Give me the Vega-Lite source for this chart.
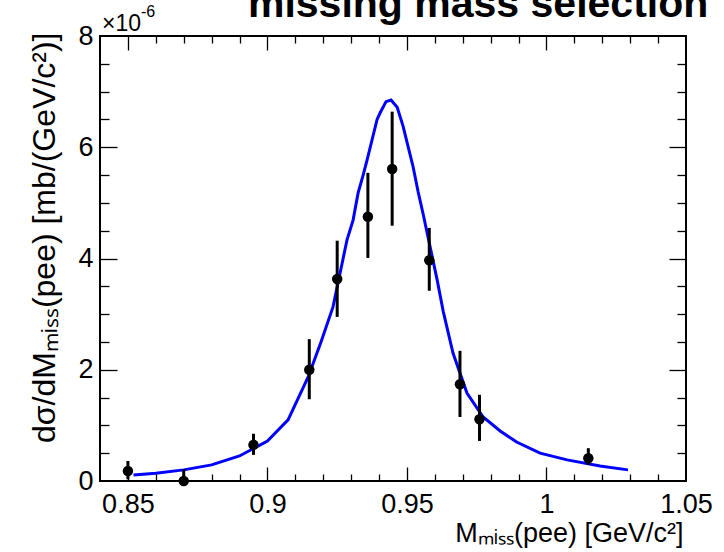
{
  "$schema": "https://vega.github.io/schema/vega-lite/v6.json",
  "width": 586,
  "height": 445,
  "autosize": {"type": "none"},
  "padding": {"left": 100, "top": 36, "right": 38, "bottom": 71},
  "background": "white",
  "config": {
    "view": {"stroke": "black", "strokeWidth": 2},
    "font": "Liberation Sans",
    "axis": {"labelFont": "Liberation Sans", "titleFont": "Liberation Sans", "labelColor": "black", "titleColor": "black", "tickColor": "black", "grid": false, "domain": false, "titleFontWeight": "normal"}
  },
  "title": {
    "text": "missing mass selection",
    "font": "Liberation Sans",
    "fontWeight": "bold",
    "fontSize": 41,
    "color": "black",
    "anchor": "end",
    "dx": -4,
    "dy": 54,
    "baseline": "alphabetic",
    "offset": 0
  },
  "datasets": {
    "curve": [
      {"m": 0.852, "v": 0.11}, {"m": 0.86, "v": 0.14}, {"m": 0.87, "v": 0.2}, {"m": 0.88, "v": 0.29},
      {"m": 0.89, "v": 0.45}, {"m": 0.9, "v": 0.72}, {"m": 0.9074, "v": 1.1}, {"m": 0.9146, "v": 1.87},
      {"m": 0.9192, "v": 2.5}, {"m": 0.9235, "v": 3.13}, {"m": 0.9285, "v": 4.33}, {"m": 0.9307, "v": 4.69},
      {"m": 0.9325, "v": 5.18}, {"m": 0.9343, "v": 5.5}, {"m": 0.9357, "v": 5.77}, {"m": 0.9393, "v": 6.5},
      {"m": 0.9404, "v": 6.62}, {"m": 0.9425, "v": 6.82}, {"m": 0.9443, "v": 6.85}, {"m": 0.9465, "v": 6.72},
      {"m": 0.9486, "v": 6.38}, {"m": 0.9522, "v": 5.65}, {"m": 0.954, "v": 5.2}, {"m": 0.9558, "v": 4.8},
      {"m": 0.9583, "v": 4.21}, {"m": 0.9608, "v": 3.62}, {"m": 0.963, "v": 3.05}, {"m": 0.9665, "v": 2.3},
      {"m": 0.9715, "v": 1.58}, {"m": 0.9773, "v": 1.15}, {"m": 0.9834, "v": 0.9}, {"m": 0.9893, "v": 0.7},
      {"m": 0.9977, "v": 0.5}, {"m": 1.0074, "v": 0.38}, {"m": 1.0192, "v": 0.27}, {"m": 1.0292, "v": 0.2}
    ],
    "points": [
      {"m": 0.85, "v": 0.18, "lo": 0.03, "hi": 0.36},
      {"m": 0.87, "v": 0.0, "lo": 0.0, "hi": 0.21},
      {"m": 0.895, "v": 0.65, "lo": 0.47, "hi": 0.85},
      {"m": 0.915, "v": 2.0, "lo": 1.47, "hi": 2.55},
      {"m": 0.925, "v": 3.63, "lo": 2.95, "hi": 4.32},
      {"m": 0.936, "v": 4.75, "lo": 4.01, "hi": 5.54},
      {"m": 0.9447, "v": 5.61, "lo": 4.59, "hi": 6.64},
      {"m": 0.958, "v": 3.97, "lo": 3.42, "hi": 4.55},
      {"m": 0.969, "v": 1.74, "lo": 1.15, "hi": 2.34},
      {"m": 0.976, "v": 1.11, "lo": 0.72, "hi": 1.55},
      {"m": 1.015, "v": 0.41, "lo": 0.29, "hi": 0.59}
    ],
    "anchor": [{"m": 0.84, "v": 8, "t1": "×10", "t2": "-6"}]
  },
  "layer": [
    {
      "data": {"name": "curve"},
      "mark": {"type": "line", "color": "#0000ff", "strokeWidth": 3, "interpolate": "linear"},
      "encoding": {
        "x": {"field": "m", "type": "quantitative",
          "scale": {"domain": [0.84, 1.05], "nice": false, "zero": false},
          "axis": {"orient": "bottom", "values": [0.85, 0.9, 0.95, 1, 1.05], "format": "~g", "ticks": false, "labelFontSize": 27, "labelPadding": 10, "labelFlush": false,
            "title": "Mₘᵢₛₛ(pee) [GeV/c²]", "titleFontSize": 27, "titleAnchor": null, "titleAlign": "right", "titleBaseline": "alphabetic", "titleX": 583, "titleY": 60}},
        "y": {"field": "v", "type": "quantitative",
          "scale": {"domain": [0, 8], "nice": false, "zero": true},
          "axis": {"orient": "left", "values": [0, 2, 4, 6, 8], "ticks": false, "labelFontSize": 27, "labelPadding": 7, "labelFlush": false, "labelBaseline": "middle",
            "title": "dσ/dMₘᵢₛₛ(pee) [mb/(GeV/c²)]", "titleFontSize": 32, "titleAnchor": null, "titleAngle": -90, "titleAlign": "right", "titleBaseline": "alphabetic", "titleX": -46, "titleY": -4}}
      }
    },
    {
      "data": {"name": "points"},
      "mark": {"type": "rule", "color": "black", "strokeWidth": 3},
      "encoding": {
        "x": {"field": "m", "type": "quantitative",
          "axis": {"orient": "bottom", "labels": false, "title": null,
            "values": [0.85, 0.86, 0.87, 0.88, 0.89, 0.9, 0.91, 0.92, 0.93, 0.94, 0.95, 0.96, 0.97, 0.98, 0.99, 1, 1.01, 1.02, 1.03, 1.04],
            "tickWidth": 1.3,
            "tickSize": {"condition": {"test": "abs(datum.value*20 - round(datum.value*20)) < 0.001", "value": -14}, "value": -7}}},
        "y": {"field": "lo", "type": "quantitative",
          "axis": {"orient": "left", "labels": false, "title": null,
            "values": [0.5, 1, 1.5, 2, 2.5, 3, 3.5, 4, 4.5, 5, 5.5, 6, 6.5, 7, 7.5],
            "tickWidth": 1.3,
            "tickSize": {"condition": {"test": "datum.value % 2 == 0", "value": -17}, "value": -9}}},
        "y2": {"field": "hi"}
      }
    },
    {
      "data": {"name": "points"},
      "mark": {"type": "point", "filled": true, "shape": "circle", "color": "black", "opacity": 1, "size": 110},
      "encoding": {
        "x": {"field": "m", "type": "quantitative",
          "axis": {"orient": "top", "labels": false, "title": null,
            "values": [0.85, 0.86, 0.87, 0.88, 0.89, 0.9, 0.91, 0.92, 0.93, 0.94, 0.95, 0.96, 0.97, 0.98, 0.99, 1, 1.01, 1.02, 1.03, 1.04],
            "tickWidth": 1.3,
            "tickSize": {"condition": {"test": "abs(datum.value*20 - round(datum.value*20)) < 0.001", "value": -14}, "value": -7}}},
        "y": {"field": "v", "type": "quantitative",
          "axis": {"orient": "right", "labels": false, "title": null,
            "values": [0.5, 1, 1.5, 2, 2.5, 3, 3.5, 4, 4.5, 5, 5.5, 6, 6.5, 7, 7.5],
            "tickWidth": 1.3,
            "tickSize": {"condition": {"test": "datum.value % 2 == 0", "value": -17}, "value": -9}}}
      }
    },
    {
      "data": {"name": "anchor"},
      "mark": {"type": "text", "align": "left", "baseline": "alphabetic", "fontSize": 23, "dx": 2, "dy": -5, "color": "black", "font": "Liberation Sans"},
      "encoding": {
        "x": {"field": "m", "type": "quantitative", "axis": null},
        "y": {"field": "v", "type": "quantitative", "axis": null},
        "text": {"field": "t1"}
      }
    },
    {
      "data": {"name": "anchor"},
      "mark": {"type": "text", "align": "left", "baseline": "alphabetic", "fontSize": 16, "dx": 41, "dy": -19, "color": "black", "font": "Liberation Sans"},
      "encoding": {
        "x": {"field": "m", "type": "quantitative", "axis": null},
        "y": {"field": "v", "type": "quantitative", "axis": null},
        "text": {"field": "t2"}
      }
    }
  ],
  "resolve": {"axis": {"x": "independent", "y": "independent"}}
}
